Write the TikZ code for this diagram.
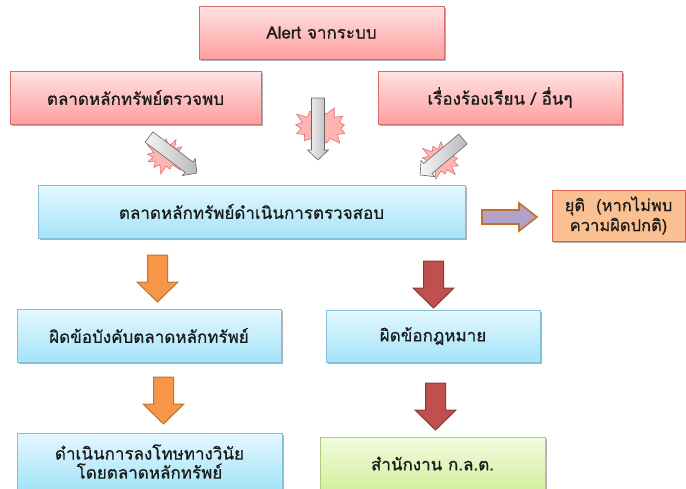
\documentclass[tikz,border=0pt]{standalone}
\usepackage{fontspec}
\newfontfamily\thai[Script=Thai, BoldFont=Loma, BoldFeatures={FakeBold=0.6}]{Loma}
\usetikzlibrary{shadows,shapes.symbols}
\definecolor{pinktop}{HTML}{FFE3E3}
\definecolor{pinkbot}{HTML}{FF9E9E}
\definecolor{pinkline}{HTML}{D96A6A}
\definecolor{bluetop}{HTML}{E4F8FF}
\definecolor{bluebot}{HTML}{A4E3F8}
\definecolor{blueline}{HTML}{86C0D8}
\definecolor{greentop}{HTML}{F3FBDE}
\definecolor{greenbot}{HTML}{D3EFA0}
\definecolor{greenline}{HTML}{A9CD7D}
\definecolor{stopfill}{HTML}{FAC091}
\definecolor{stopline}{HTML}{DE6452}
\definecolor{purplefill}{HTML}{B3A2C7}
\definecolor{purpleline}{HTML}{C0702F}
\definecolor{orangefill}{HTML}{F79646}
\definecolor{orangeline}{HTML}{C0722F}
\definecolor{redfill}{HTML}{C0504D}
\definecolor{redline}{HTML}{8C3A38}
\definecolor{burstfill}{HTML}{FFB4B4}
\definecolor{burstline}{HTML}{E07070}
\tikzset{
  box/.style={draw, line width=0.8pt, inner sep=0pt, align=center,
    font=\thai\bfseries\fontsize{17}{19}\selectfont, text=black!90,
    drop shadow={shadow xshift=1.5pt, shadow yshift=-1.8pt, opacity=0.3, fill=black}},
  pinkbox/.style={box, draw=pinkline, top color=pinktop, bottom color=pinkbot},
  bluebox/.style={box, draw=blueline, top color=bluetop, bottom color=bluebot},
  greenbox/.style={box, draw=greenline, top color=greentop, bottom color=greenbot},
  stopbox/.style={box, draw=stopline, fill=stopfill, font=\thai\bfseries\fontsize{16.5}{20}\selectfont},
  burst/.style={starburst, starburst points=13, starburst point height=10pt,
    fill=burstfill, draw=burstline, line width=0.6pt, inner sep=0pt},
  downarr/.pic={\path[pic actions] (-10,0) -- (10,0) -- (10,27) -- (20.5,27)
      -- (0,47) -- (-20.5,27) -- (-10,27) -- cycle;},
  rightarr/.pic={\path[pic actions] (0,-7) -- (37,-7) -- (37,-14) -- (55,0)
      -- (37,14) -- (37,7) -- (0,7) -- cycle;},
  grayarr/.pic={\path[pic actions] (0,-6.5) -- (#1-10,-6.5) -- (#1-10,-10.5) -- (#1,0)
      -- (#1-10,10.5) -- (#1-10,6.5) -- (0,6.5) -- cycle;},
  orangearr/.style={fill=orangefill, draw=orangeline, line width=1pt},
  redarr/.style={fill=redfill, draw=redline, line width=1pt},
  purplearr/.style={fill=purplefill, draw=purpleline, line width=1.6pt},
  grayarrow/.style={left color=gray!8, right color=gray!55, draw=black!60, line width=0.6pt},
}
\begin{document}
\begin{tikzpicture}[x=1pt,y=-1pt]
\useasboundingbox (0,0) rectangle (686,488);
% boxes
\node[pinkbox, minimum width=245pt, minimum height=53pt] (alert) at (321.5,32.5) {Alert จากระบบ};
\node[pinkbox, minimum width=251pt, minimum height=53pt] (det) at (135.5,97.5) {ตลาดหลักทรัพย์ตรวจพบ};
\node[pinkbox, minimum width=244pt, minimum height=53pt] (comp) at (500,97.5) {เรื่องร้องเรียน / อื่นๆ};
\node[bluebox, minimum width=427pt, minimum height=53pt] (check) at (251.5,211.5) {ตลาดหลักทรัพย์ดำเนินการตรวจสอบ};
\node[stopbox, minimum width=133pt, minimum height=51pt] (stop) at (618.5,215.5) {ยุติ \ (หากไม่พบ\\ความผิดปกติ)};
\node[bluebox, minimum width=264pt, minimum height=53pt] (rule) at (149,335.5) {ผิดข้อบังคับตลาดหลักทรัพย์};
\node[bluebox, minimum width=214pt, minimum height=52pt] (law) at (433,336) {ผิดข้อกฎหมาย};
\node[bluebox, minimum width=265pt, minimum height=57pt] (punish) at (149.5,461.5) {ดำเนินการลงโทษทางวินัย\\โดยตลาดหลักทรัพย์};
\node[greenbox, minimum width=225pt, minimum height=53pt] (sec) at (432.5,463.5) {สำนักงาน ก.ล.ต.};
% starbursts and gray arrows
\node[burst, minimum width=46pt, minimum height=40pt] (b1) at (166,156) {};
\node[burst, minimum width=60pt, minimum height=46pt] (b2) at (321,127) {};
\node[burst, minimum width=46pt, minimum height=42pt] (b3) at (441,160) {};
\pic[grayarrow, rotate=-37] at (149,137) {grayarr=60};
\pic[grayarrow, rotate=-90] at (318,98) {grayarr=62};
\pic[grayarrow, rotate=-140] at (463,139) {grayarr=56};
% block arrows
\pic[purplearr] at (482,217) {rightarr};
\pic[orangearr] at (157.5,255) {downarr};
\pic[redarr] at (433.5,261) {downarr};
\pic[orangearr] at (163.5,377) {downarr};
\pic[redarr] at (435.5,383) {downarr};
\end{tikzpicture}
\end{document}
